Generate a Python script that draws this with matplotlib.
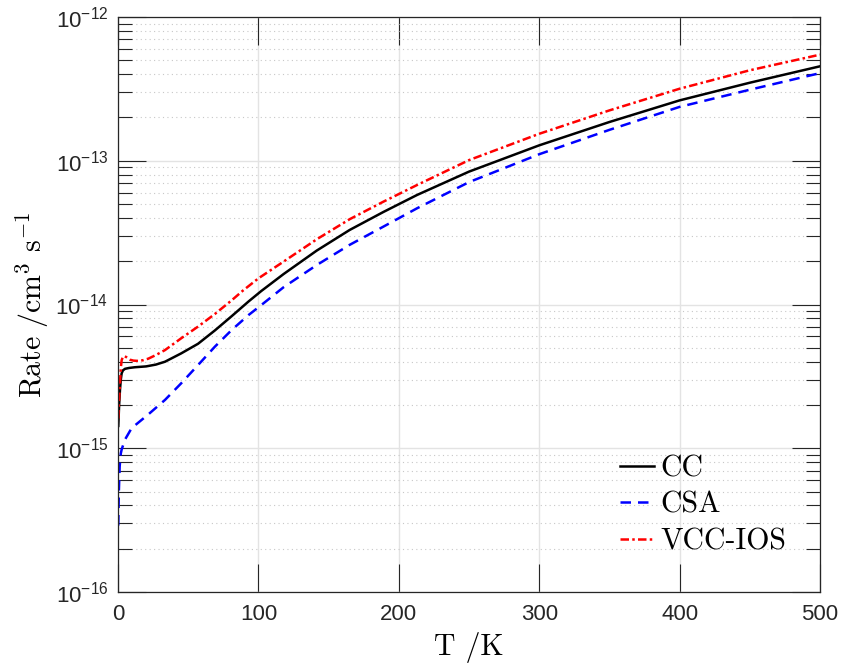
import math
import matplotlib
matplotlib.use('Agg')
import matplotlib.pyplot as plt
from matplotlib.ticker import LogLocator, FixedLocator, NullFormatter, FuncFormatter, NullLocator

plt.rcParams['mathtext.fontset'] = 'custom'
plt.rcParams['mathtext.rm'] = 'Liberation Sans'
plt.rcParams['mathtext.it'] = 'Liberation Sans:italic'
plt.rcParams['mathtext.bf'] = 'Liberation Sans:bold'
plt.rcParams['font.family'] = 'Liberation Sans'

# ---- data ----
T_cc = [0.2, 0.8, 1.4, 2, 2.6, 3.5, 5, 8, 12, 20, 27, 33.5, 45, 57, 69, 81, 93,
        102, 118, 141.5, 165, 189, 213, 250, 300, 350, 400, 450, 500]
rate_cc = [1.43e-15, 2.0e-15, 2.54e-15, 3.0e-15, 3.32e-15, 3.48e-15, 3.57e-15,
           3.62e-15, 3.66e-15, 3.71e-15, 3.82e-15, 4.0e-15, 4.57e-15, 5.33e-15,
           6.6e-15, 8.3e-15, 1.05e-14, 1.24e-14, 1.63e-14, 2.37e-14, 3.3e-14,
           4.4e-14, 5.78e-14, 8.4e-14, 1.28e-13, 1.86e-13, 2.63e-13, 3.49e-13,
           4.54e-13]

T_csa = [0.2, 0.6, 1.2, 2, 2.6, 5, 9.7, 21.6, 33.5, 45, 57, 69, 81, 93, 102,
         118, 141.5, 165, 189, 213, 250, 300, 350, 400, 450, 500]
rate_csa = [2.9e-16, 5.0e-16, 7.5e-16, 9.2e-16, 9.8e-16, 1.15e-15, 1.38e-15,
            1.72e-15, 2.17e-15, 2.83e-15, 3.79e-15, 5.09e-15, 6.65e-15, 8.45e-15,
            9.9e-15, 1.32e-14, 1.88e-14, 2.6e-14, 3.48e-14, 4.67e-14, 7.1e-14,
            1.11e-13, 1.64e-13, 2.37e-13, 3.12e-13, 4.07e-13]

T_vcc = [0.2, 0.8, 1.4, 2, 2.6, 3.5, 4.5, 6, 8.5, 11, 14.5, 18, 21.6, 27, 33.5,
         45, 57, 69, 81, 89, 100, 118, 141.5, 165, 189, 213, 250, 300, 350, 400,
         450, 500]
rate_vcc = [1.61e-15, 2.2e-15, 2.83e-15, 3.6e-15, 4.1e-15, 4.32e-15, 4.38e-15,
            4.3e-15, 4.13e-15, 4.07e-15, 4.05e-15, 4.1e-15, 4.2e-15, 4.45e-15,
            4.82e-15, 5.82e-15, 7.02e-15, 8.59e-15, 1.07e-14, 1.25e-14, 1.52e-14,
            1.99e-14, 2.84e-14, 3.92e-14, 5.19e-14, 6.78e-14, 1.01e-13, 1.54e-13,
            2.24e-13, 3.17e-13, 4.26e-13, 5.47e-13]

labels = ['CC', 'CSA', 'VCC-IOS']
x_ticks = [0, 100, 200, 300, 400, 500]
y_ticks = [1e-16, 1e-15, 1e-14, 1e-13, 1e-12]

# ---- figure ----
fig = plt.figure(figsize=(8.44, 6.64), dpi=100)
ax = fig.add_axes([118/844, 1-592/664, (820-118)/844, (592-17)/664])

LW = 1.8
ax.plot(T_cc, rate_cc, color='black', lw=LW, label=labels[0])
ax.plot(T_csa, rate_csa, color='#0000ff', lw=LW, dashes=(4.2, 2.8), label=labels[1])
ax.plot(T_vcc, rate_vcc, color='#ff0000', lw=LW, dashes=(3.4, 1.3, 1.0, 1.3), label=labels[2])

ax.set_yscale('log')
ax.set_xlim(0, 500)
ax.set_ylim(1e-16, 1e-12)

ax.xaxis.set_major_locator(FixedLocator(x_ticks))
ax.xaxis.set_minor_locator(NullLocator())
ax.yaxis.set_major_locator(FixedLocator(y_ticks))
ax.yaxis.set_minor_locator(LogLocator(base=10, subs=range(2, 10), numticks=20))
ax.yaxis.set_minor_formatter(NullFormatter())

def yfmt(v, pos):
    e = int(round(math.log10(v)))
    return r'$10^{%d}$' % e
ax.yaxis.set_major_formatter(FuncFormatter(yfmt))

spine_col = '#262626'
for s in ax.spines.values():
    s.set_color(spine_col)
    s.set_linewidth(0.9)

ax.tick_params(which='both', direction='in', top=True, right=True,
               color=spine_col, width=0.8)
ax.tick_params(which='major', length=20, labelsize=16, labelcolor=spine_col)
ax.tick_params(axis='x', which='major', pad=9)
ax.tick_params(axis='y', which='major', pad=7)
ax.tick_params(which='minor', length=10)

ax.grid(True, which='major', color='#e3e3e3', lw=1.0, ls='-')
ax.grid(True, which='minor', axis='y', color='#c8c8c8', lw=0.8, ls=(0, (1, 3)))
ax.set_axisbelow(True)

ax.set_xlabel(r'T /K', fontsize=21.5, fontfamily='cmr10', labelpad=5)
ax.set_ylabel(r'$\mathrm{Rate\ /cm^3\ s^{-1}}$', fontsize=21.5, math_fontfamily='cm', labelpad=3)

leg = ax.legend(loc='lower right', frameon=False, prop={'family': 'cmr10', 'size': 21.5},
                handlelength=1.17, handletextpad=0.2, labelspacing=0.30,
                borderaxespad=0, bbox_to_anchor=(0.969, 0.043))

fig.savefig('out.png', dpi=100)
